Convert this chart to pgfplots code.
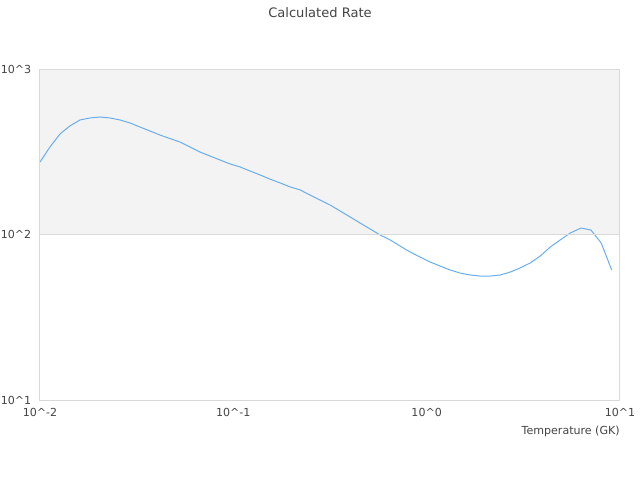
\documentclass[border=0pt]{standalone}
\usepackage{pgfplots}
\pgfplotsset{compat=1.18}
\usepackage{fontspec}
\setmainfont{DejaVu Sans}
\definecolor{txt}{HTML}{444444}
\definecolor{frame}{HTML}{D9D9D9}
\definecolor{band}{HTML}{F3F3F3}
\definecolor{curve}{HTML}{6AAEF0}
\begin{document}
\begin{tikzpicture}
\useasboundingbox (0pt,0pt) rectangle (480pt,360pt);
\begin{axis}[
  at={(30pt,60pt)}, anchor=south west,
  scale only axis, width=435pt, height=248.25pt,
  xmode=log, ymode=log,
  xmin=0.01, xmax=10, ymin=10, ymax=1000,
  axis line style={frame, line width=0.75pt},
  major tick length=0pt, minor tick length=0pt,
  xminorticks=false, yminorticks=false,
  xtick={0.01,0.1,1,10},
  xticklabels={10\textasciicircum-2,10\textasciicircum-1,10\textasciicircum0,10\textasciicircum1},
  ytick={10,100,1000},
  yticklabels={10\textasciicircum1,10\textasciicircum2,10\textasciicircum3},
  ymajorgrids, grid style={frame, line width=0.75pt},
  tick label style={font=\fontsize{8.3}{10}\selectfont, text=txt},
  xticklabel style={anchor=north, yshift=-3pt},
  yticklabel style={anchor=east, xshift=-3pt},
  xlabel={Temperature (GK)},
  xlabel style={at={(1,0)}, anchor=base east, yshift=-26pt, inner sep=0pt, font=\fontsize{8.3}{10}\selectfont, text=txt},
  title={Calculated Rate},
  title style={at={(0.5,1)}, anchor=center, yshift=36pt, xshift=-7.5pt, inner sep=0pt, font=\fontsize{9.8}{12}\selectfont, text=txt},
  axis on top,
]
\fill[band] (axis cs:0.01,100) rectangle (axis cs:10,1000);
\addplot[curve, line width=0.75pt, no marks] coordinates {
(0.01,274) (0.01126,338) (0.01269,405) (0.01429,453) (0.01610,492)
(0.01814,506) (0.02043,513) (0.02302,506) (0.02593,492) (0.02921,472)
(0.03290,446) (0.03707,422) (0.04176,399) (0.04704,380) (0.05299,362)
(0.05970,338) (0.06725,315) (0.07576,298) (0.08535,282) (0.09615,267)
(0.1083,256) (0.1220,242) (0.1375,229) (0.1549,216) (0.1745,205)
(0.1966,194) (0.2214,186) (0.2495,173) (0.2810,161.6) (0.3166,150.8)
(0.3567,138.7) (0.4018,127.6) (0.4526,117.3) (0.5099,108.0) (0.5744,99.3)
(0.6471,92.7) (0.7290,85.2) (0.8212,78.4) (0.9251,73.1) (1.042,68.2)
(1.174,64.5) (1.323,61.0) (1.490,58.5) (1.679,56.9) (1.891,56.1)
(2.131,56.1) (2.400,56.9) (2.704,59.3) (3.046,62.8) (3.432,67.3)
(3.866,74.1) (4.356,84.0) (4.907,92.7) (5.528,102.1) (6.283,109.4)
(7.077,106.4) (7.995,88.9) (9.06,61.0)
};
\end{axis}
\end{tikzpicture}
\end{document}
